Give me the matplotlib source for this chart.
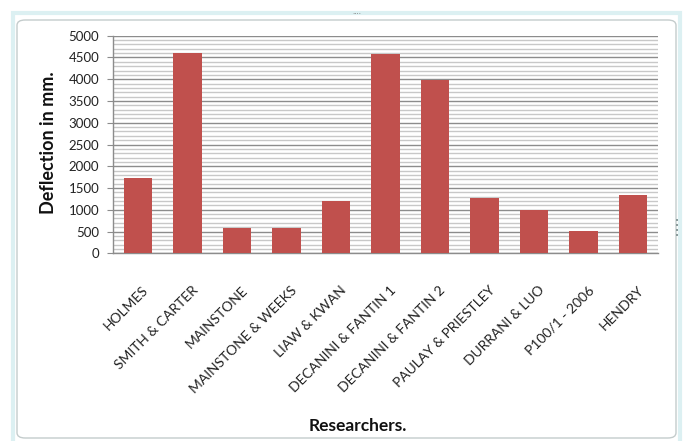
import matplotlib
matplotlib.use("Agg")
import matplotlib.pyplot as plt
from matplotlib.patches import FancyBboxPatch, Rectangle
from matplotlib.ticker import MultipleLocator

researchers = [
    "HOLMES", "SMITH & CARTER", "MAINSTONE", "MAINSTONE & WEEKS",
    "LIAW & KWAN", "DECANINI & FANTIN 1", "DECANINI & FANTIN 2",
    "PAULAY & PRIESTLEY", "DURRANI & LUO", "P100/1 - 2006", "HENDRY",
]
deflection = [1720, 4600, 580, 580, 1200, 4580, 3980, 1270, 1000, 520, 1340]
y_ticks = [0, 500, 1000, 1500, 2000, 2500, 3000, 3500, 4000, 4500, 5000]

W, H = 683, 441
fig = plt.figure(figsize=(W / 100, H / 100), dpi=100)
fig.patch.set_facecolor("white")

# chart frame: light outer band and a rounded inner border
fig.patches.append(Rectangle((13 / W, -0.02), (680 - 13) / W, 1 - 13 / H + 0.02,
                             transform=fig.transFigure, facecolor="none",
                             edgecolor="#dcf0f2", linewidth=3))
fig.patches.append(FancyBboxPatch((17 / W, 3 / H), (676 - 17) / W, (438 - 17 - 3) / H,
                                  boxstyle="round,pad=0,rounding_size=0.012",
                                  transform=fig.transFigure, facecolor="none",
                                  edgecolor="#c4cccc", linewidth=1.0))
# resize handles
fig.text(357 / W, 1 - 12 / H, "....", ha="center", va="center", fontsize=5, color="#777777")
for yy in (221, 226, 231, 236):
    fig.patches.append(Rectangle((676 / W, 1 - yy / H), 2 / W, 2 / H,
                                 transform=fig.transFigure, facecolor="#8a9a9a",
                                 edgecolor="none"))

ax = fig.add_axes([113 / W, 1 - 253.3 / H, (658 - 113) / W, (253.3 - 35.7) / H])
x = list(range(len(researchers)))
ax.bar(x, deflection, width=0.575, color="#c0504d", zorder=3)

ax.set_xlim(-0.5, len(researchers) - 0.5)
ax.set_ylim(0, 5000)
ax.set_yticks(y_ticks)
ax.set_yticklabels([str(v) for v in y_ticks])
ax.yaxis.set_minor_locator(MultipleLocator(100))
ax.grid(axis="y", which="major", color="#8c8c8c", linewidth=1.0, zorder=1)
ax.grid(axis="y", which="minor", color="#c8c8c8", linewidth=1.0, zorder=1)
ax.set_axisbelow(True)

for side in ("top", "right"):
    ax.spines[side].set_visible(False)
for side in ("left", "bottom"):
    ax.spines[side].set_color("#8c8c8c")
    ax.spines[side].set_linewidth(1.0)

ax.tick_params(axis="y", which="major", length=4, color="#8c8c8c", pad=6,
               labelsize=9.5, labelcolor="#222222")
ax.tick_params(axis="y", which="minor", length=0)
ax.tick_params(axis="x", length=0, pad=0)

ax.set_xticks(x)
ax.set_xticklabels([])
# rotated category labels, their upper-right end placed below each bar
for xi, name in zip(x, researchers):
    ax.annotate(name, xy=(xi, 0), xycoords=("data", "axes fraction"),
                xytext=(3, -22), textcoords="offset points",
                rotation=45, ha="right", va="top", rotation_mode="anchor",
                fontsize=10, color="#222222", family="Lato")
for lab in ax.get_yticklabels():
    lab.set_family("Lato")

fig.text(48 / W, 1 - 143 / H, "Deflection in mm.", rotation=90, ha="center", va="center",
         fontsize=13, fontweight="bold", family="Lato", color="#111111")
fig.text(358 / W, 1 - 426 / H, "Researchers.", ha="center", va="center",
         fontsize=12.5, fontweight="bold", family="Lato", color="#111111")

fig.savefig("out.png", dpi=100, facecolor="white")
